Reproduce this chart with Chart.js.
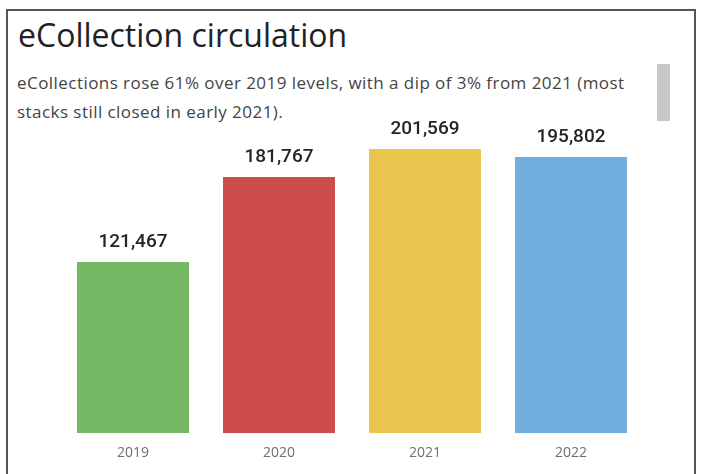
<!DOCTYPE html>
<html>
<head>
<meta charset="utf-8">
<script src="https://cdn.jsdelivr.net/npm/chart.js@4"></script>
<style>
    html, body { margin: 0; padding: 0; background: #fff; }
    #frame {
        position: absolute; left: 6px; top: 9px; width: 690px; height: 480px;
        border: 2px solid #555; border-bottom: none; box-sizing: border-box;
    }
    #title {
        position: absolute; left: 18px; top: 13px;
        font-family: "Open Sans", sans-serif; font-size: 32px; color: #222; white-space: nowrap;
    }
    #subtitle {
        position: absolute; left: 17px; top: 68px; width: 630px;
        font-family: "Open Sans", sans-serif; font-size: 17px; letter-spacing: 0.45px;
        line-height: 29px; color: #444;
    }
    #scroll {
        position: absolute; left: 657px; top: 64px; width: 13px; height: 57px; background: #c8c8c8;
    }
    #wrap { position: absolute; left: 0; top: 118px; width: 704px; height: 356px; }
</style>
</head>
<body>
<div id="frame"></div>
<div id="title">eCollection circulation</div>
<div id="subtitle">eCollections rose 61% over 2019 levels, with a dip of 3% from 2021 (most stacks still closed in early 2021).</div>
<div id="scroll"></div>
<div id="wrap"><canvas id="circChart"></canvas></div>
<script>
const years = ["2019", "2020", "2021", "2022"];
const circulation = [121467, 181767, 201569, 195802];
const barColors = ["#75b865", "#cc4b4b", "#ebc64f", "#71aedd"];

document.addEventListener("DOMContentLoaded", function () {
    const canvas = document.getElementById("circChart");

    // draws the value above each bar
    const valueLabels = {
        id: "valueLabels",
        afterDatasetsDraw(chart) {
            const ctx = chart.ctx;
            const meta = chart.getDatasetMeta(0);
            ctx.save();
            ctx.font = "500 19px Roboto";
            ctx.fillStyle = "#252423";
            ctx.textAlign = "center";
            ctx.textBaseline = "bottom";
            meta.data.forEach(function (bar, i) {
                ctx.fillText(circulation[i].toLocaleString("en-US"), bar.x, bar.y - 10);
            });
            ctx.restore();
        }
    };

    new Chart(canvas, {
        type: "bar",
        data: {
            labels: years,
            datasets: [{
                data: circulation,
                backgroundColor: barColors,
                borderWidth: 0,
                categoryPercentage: 1,
                barPercentage: 0.767
            }]
        },
        options: {
            responsive: true,
            maintainAspectRatio: false,
            animation: false,
            layout: { padding: { left: 60, right: 60, top: 5, bottom: 10 } },
            plugins: { legend: { display: false }, tooltip: { enabled: false } },
            scales: {
                x: {
                    grid: { display: false },
                    border: { display: false },
                    ticks: { color: "#6e6e6e", font: { family: "Open Sans", size: 14 }, padding: 3 }
                },
                y: {
                    display: false,
                    min: 0,
                    max: 220000
                }
            }
        },
        plugins: [valueLabels]
    });
});
</script>
</body>
</html>
